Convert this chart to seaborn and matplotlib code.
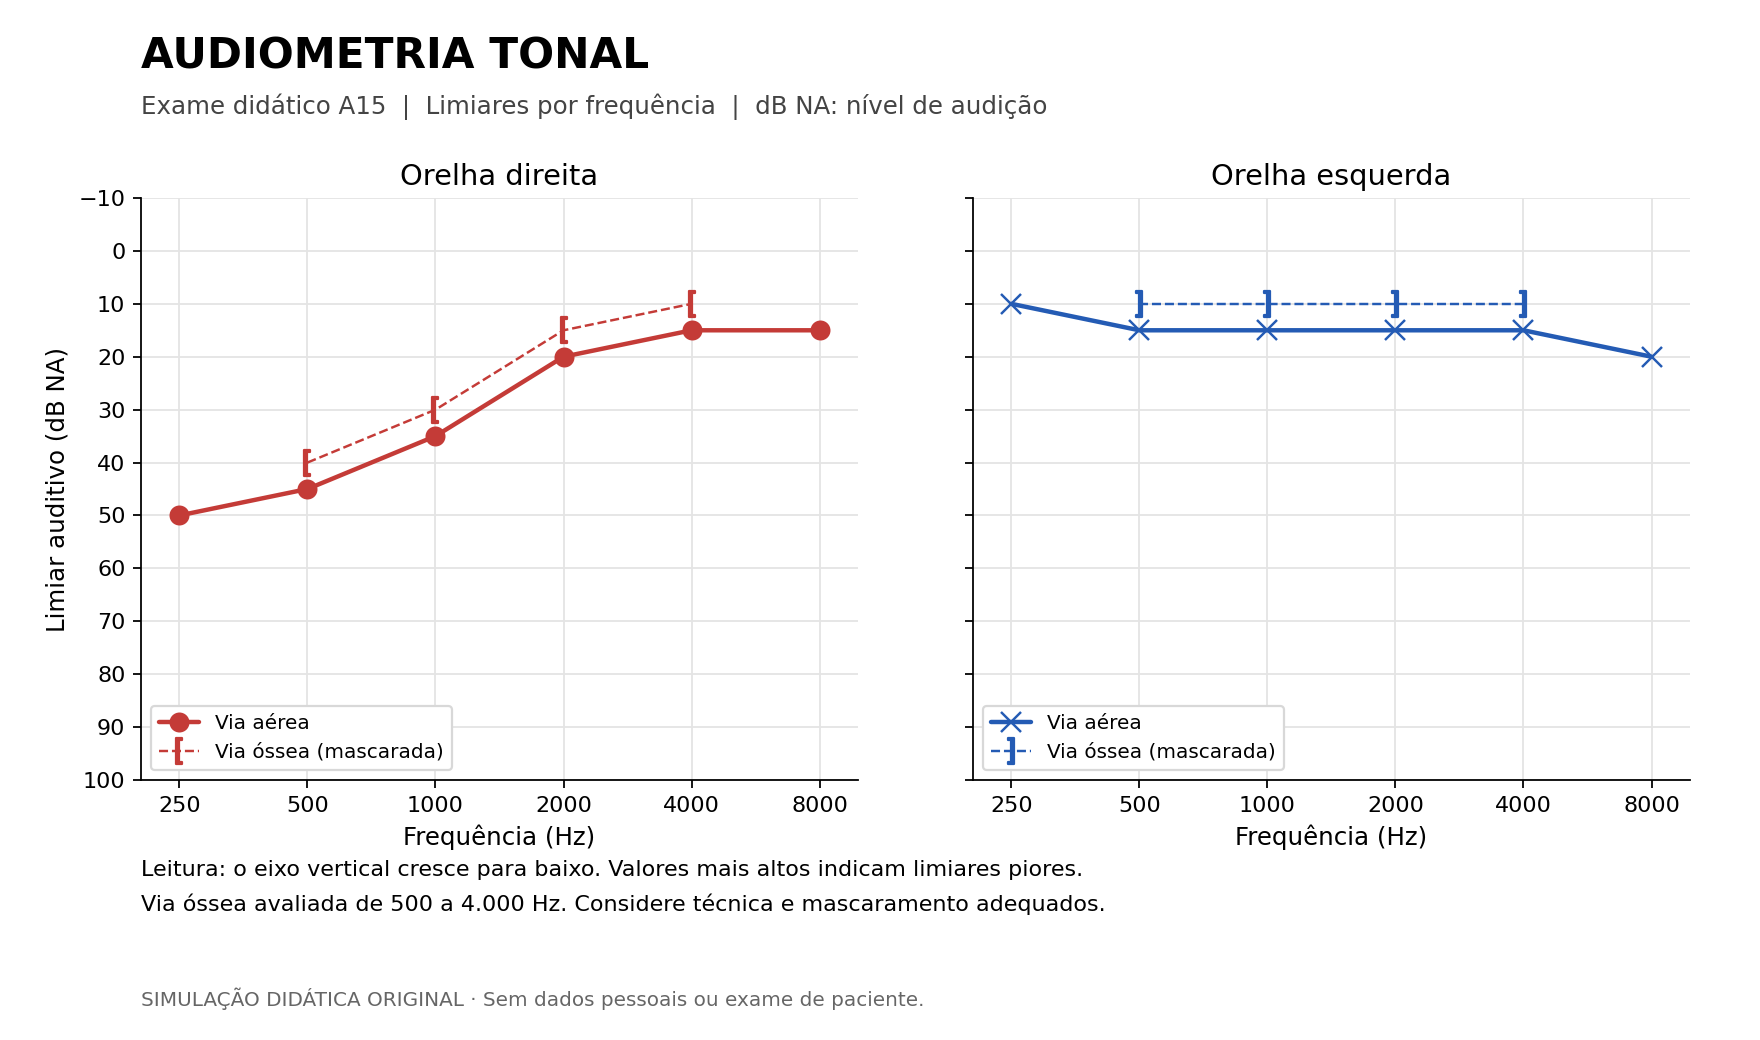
import numpy as np
import pandas as pd
import matplotlib
matplotlib.use("Agg")
import matplotlib.pyplot as plt
import seaborn as sns

# Dados do exame (dB NA)
freqs = [250, 500, 1000, 2000, 4000, 8000]
freqs_ossea = [500, 1000, 2000, 4000]
direita_aerea = [50, 45, 35, 20, 15, 15]
direita_ossea = [40, 30, 15, 10]
esquerda_aerea = [10, 15, 15, 15, 15, 20]
esquerda_ossea = [10, 10, 10, 10]
y_ticks = list(range(-10, 101, 10))

RED = "#C43B37"
BLUE = "#245BB4"

sns.set_style("ticks")
plt.rcParams["font.family"] = ["DejaVu Sans"]
for k in ["text.color", "axes.labelcolor", "xtick.color", "ytick.color",
          "axes.edgecolor"]:
    plt.rcParams[k] = "black"

fig = plt.figure(figsize=(11, 6.5), dpi=160)
ax1 = fig.add_axes([0.0801, 0.25, 0.4074, 0.5596])
ax2 = fig.add_axes([0.5528, 0.25, 0.4074, 0.5596], sharey=ax1)

panels = [
    (ax1, "Orelha direita", direita_aerea, direita_ossea, RED, "o", r"$[$"),
    (ax2, "Orelha esquerda", esquerda_aerea, esquerda_ossea, BLUE, "x", r"$]$"),
]

for ax, title, aerea, ossea, cor, mk_ar, mk_os in panels:
    df_ar = pd.DataFrame({"freq": freqs, "db": aerea})
    df_os = pd.DataFrame({"freq": freqs_ossea, "db": ossea})
    if mk_ar == "o":
        sns.lineplot(data=df_ar, x="freq", y="db", ax=ax, color=cor, lw=2,
                     marker="o", markersize=9, mec=cor, mfc=cor, mew=0,
                     label="Via aérea")
    else:
        sns.lineplot(data=df_ar, x="freq", y="db", ax=ax, color=cor, lw=2,
                     marker="x", markersize=9, mec=cor, mew=1.1,
                     label="Via aérea")
    sns.lineplot(data=df_os, x="freq", y="db", ax=ax, color=cor, lw=1.1,
                 linestyle="--", marker=mk_os, markersize=12, mec=cor, mfc=cor,
                 mew=1.0, label="Via óssea (mascarada)")

    ax.set_xscale("log", base=2)
    ax.set_xlim(250 * 2 ** -0.3, 8000 * 2 ** 0.3)
    ax.set_xticks(freqs)
    ax.set_xticklabels([str(f) for f in freqs])
    ax.minorticks_off()
    ax.set_ylim(100, -10)
    ax.set_yticks(y_ticks)
    ax.grid(True, color="#e4e4e4", lw=0.8)
    ax.set_axisbelow(True)
    ax.tick_params(labelsize=10)
    ax.set_title(title, fontsize=13)
    ax.set_xlabel("Frequência (Hz)", fontsize=11)
    ax.legend(loc="lower left", fontsize=9, frameon=True, framealpha=1,
              edgecolor="#d8d8d8")
    sns.despine(ax=ax)

ax1.set_ylabel("Limiar auditivo (dB NA)", fontsize=11)
ax2.set_ylabel("")
ax2.tick_params(labelleft=False)

fig.text(0.0801, 0.946, "AUDIOMETRIA TONAL", fontsize=19, fontweight="bold",
         va="center", ha="left")
fig.text(0.0801, 0.897,
         "Exame didático A15  |  Limiares por frequência  |  dB NA: nível de audição",
         fontsize=11, color="#444444", va="center", ha="left")
fig.text(0.0801, 0.163,
         "Leitura: o eixo vertical cresce para baixo. Valores mais altos indicam limiares piores.",
         fontsize=10, va="center", ha="left")
fig.text(0.0801, 0.131,
         "Via óssea avaliada de 500 a 4.000 Hz. Considere técnica e mascaramento adequados.",
         fontsize=10, va="center", ha="left")
fig.text(0.0801, 0.040,
         "SIMULAÇÃO DIDÁTICA ORIGINAL · Sem dados pessoais ou exame de paciente.",
         fontsize=9, color="#666666", va="center", ha="left")

fig.savefig("out.png", dpi=160)
plt.close(fig)
